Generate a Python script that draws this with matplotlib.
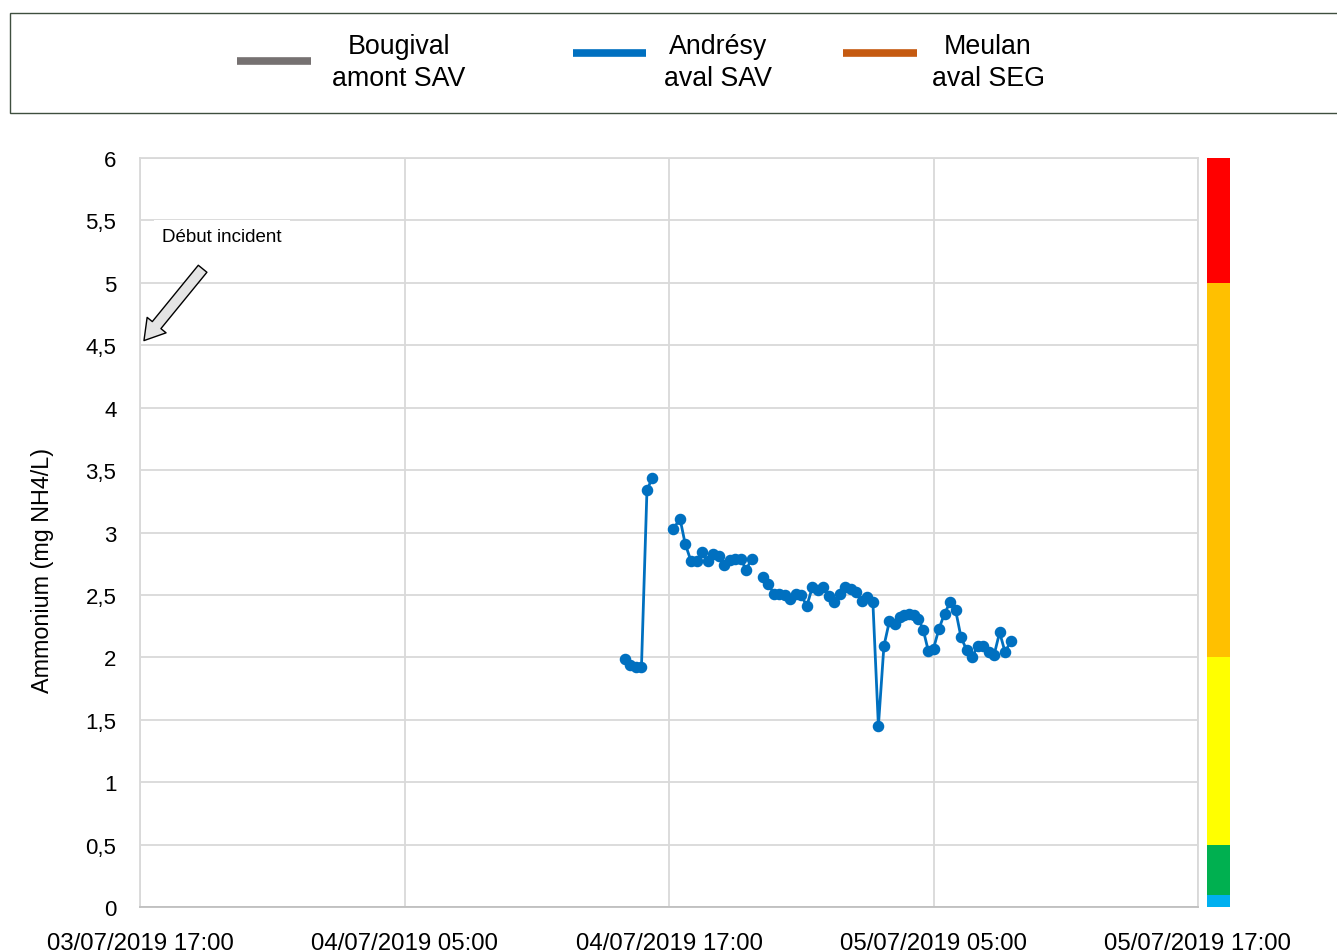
import matplotlib
matplotlib.use("Agg")
import matplotlib.pyplot as plt
import matplotlib.dates as mdates
from matplotlib.patches import Rectangle, FancyArrowPatch
from matplotlib.lines import Line2D
from matplotlib.ticker import FuncFormatter, MultipleLocator
import pandas as pd

# ---------------- data ----------------
andresy_times = [
    "2019-07-04 15:00", "2019-07-04 15:15", "2019-07-04 15:30", "2019-07-04 15:45",
    "2019-07-04 16:00", "2019-07-04 16:15",
    "2019-07-04 17:12", "2019-07-04 17:30", "2019-07-04 17:44", "2019-07-04 18:00",
    "2019-07-04 18:15", "2019-07-04 18:30", "2019-07-04 18:45", "2019-07-04 19:00",
    "2019-07-04 19:15", "2019-07-04 19:30", "2019-07-04 19:45", "2019-07-04 20:00",
    "2019-07-04 20:15", "2019-07-04 20:30", "2019-07-04 20:45",
    "2019-07-04 21:15", "2019-07-04 21:30", "2019-07-04 21:45", "2019-07-04 22:00",
    "2019-07-04 22:15", "2019-07-04 22:30", "2019-07-04 22:45", "2019-07-04 23:00",
    "2019-07-04 23:15", "2019-07-04 23:30", "2019-07-04 23:45", "2019-07-05 00:00",
    "2019-07-05 00:15", "2019-07-05 00:30", "2019-07-05 00:45", "2019-07-05 01:00",
    "2019-07-05 01:15", "2019-07-05 01:30", "2019-07-05 01:45", "2019-07-05 02:00",
    "2019-07-05 02:15", "2019-07-05 02:30", "2019-07-05 02:45", "2019-07-05 03:00",
    "2019-07-05 03:15", "2019-07-05 03:30", "2019-07-05 03:40", "2019-07-05 03:54",
    "2019-07-05 04:08", "2019-07-05 04:19", "2019-07-05 04:32", "2019-07-05 04:46",
    "2019-07-05 05:00", "2019-07-05 05:15", "2019-07-05 05:30", "2019-07-05 05:45",
    "2019-07-05 06:00", "2019-07-05 06:15", "2019-07-05 06:30", "2019-07-05 06:45",
    "2019-07-05 07:00", "2019-07-05 07:15", "2019-07-05 07:30", "2019-07-05 07:45",
    "2019-07-05 08:00", "2019-07-05 08:15", "2019-07-05 08:30",
]
andresy_values = [
    1.99, 1.94, 1.92, 1.92,
    3.34, 3.44,
    3.03, 3.11, 2.91, 2.77,
    2.77, 2.84, 2.77, 2.83,
    2.81, 2.74, 2.78, 2.79,
    2.79, 2.70, 2.79,
    2.64, 2.59, 2.51, 2.51,
    2.50, 2.47, 2.51, 2.50,
    2.41, 2.56, 2.54, 2.56,
    2.49, 2.44, 2.51, 2.56,
    2.55, 2.52, 2.45, 2.48,
    2.44, 1.45, 2.09, 2.29,
    2.27, 2.32, 2.34, 2.35,
    2.34, 2.31, 2.22, 2.05,
    2.07, 2.23, 2.35, 2.44,
    2.38, 2.16, 2.06, 2.00,
    2.09, 2.09, 2.04, 2.02,
    2.20, 2.04, 2.13,
]
# segment gaps (missing data) after these indices
gap_after = [5, 20]

series_labels = ["Bougival\namont SAV", "Andrésy\naval SAV", "Meulan\naval SEG"]
series_colors = ["#767171", "#0070c0", "#c55a11"]

x_start = "2019-07-03 17:00"
x_end = "2019-07-05 17:00"
y_max = 6

# quality classes (colour scale on the right)
class_bounds = [0, 0.1, 0.5, 2, 5, 6]
class_colors = ["#00b0f0", "#00b050", "#ffff00", "#ffc000", "#ff0000"]

annotation_text = "Début incident"
ylabel = "Ammonium (mg NH4/L)"

# ---------------- figure ----------------
W, H = 1337, 953
fig = plt.figure(figsize=(W / 100, H / 100), dpi=100)
plt.rcParams["font.family"] = ["Liberation Sans", "DejaVu Sans"]

def fx(px):
    return px / W

def fy(py):
    return 1 - py / H

ax = fig.add_axes([fx(140), fy(908), fx(1198) - fx(140), fy(159) - fy(908)])

t = pd.to_datetime(andresy_times)
bounds = [0] + [g + 1 for g in gap_after] + [len(t)]
for a, b in zip(bounds[:-1], bounds[1:]):
    ax.plot(t[a:b], andresy_values[a:b], color=series_colors[1], lw=2.0,
            marker="o", ms=7.3, zorder=3)

ax.set_xlim(pd.Timestamp(x_start), pd.Timestamp(x_end))
ax.set_ylim(0, y_max)
ax.xaxis.set_major_locator(mdates.HourLocator(byhour=[5, 17]))
ax.xaxis.set_major_formatter(mdates.DateFormatter("%d/%m/%Y %H:%M"))
ax.yaxis.set_major_locator(MultipleLocator(0.5))
ax.yaxis.set_major_formatter(FuncFormatter(
    lambda val, pos: ("%g" % val).replace(".", ",")))

grid_c = "#d9d9d9"
ax.grid(True, color=grid_c, lw=1.3, zorder=0)
ax.set_axisbelow(True)
for s in ["top", "right"]:
    ax.spines[s].set_visible(False)
ax.spines["left"].set_color(grid_c)
ax.spines["left"].set_linewidth(1.3)
ax.spines["bottom"].set_color("#bfbfbf")
ax.spines["bottom"].set_linewidth(1.3)
ax.tick_params(axis="both", length=0, colors="black")
ax.tick_params(axis="x", pad=18, labelsize=17.3)
ax.tick_params(axis="y", pad=17, labelsize=16)
ax.set_ylabel(ylabel, fontsize=16.8)
ax.yaxis.set_label_coords((54 - 140) / 1058, 0.451)

# right border line (gridline at limit)
ax.axvline(pd.Timestamp(x_end), color=grid_c, lw=1.3, zorder=0, clip_on=False)
ax.axhline(y_max, color=grid_c, lw=1.3, zorder=0, clip_on=False)

# annotation
t0 = pd.Timestamp(x_start)
ax.text(t0 + pd.Timedelta(hours=3.72), 5.37, annotation_text, fontsize=13.5,
        ha="center", va="center", zorder=4,
        bbox=dict(facecolor="white", edgecolor="none", pad=6))
arrow = FancyArrowPatch(
    (mdates.date2num(t0 + pd.Timedelta(hours=2.92)), 5.13),
    (mdates.date2num(t0 + pd.Timedelta(hours=0.1)), 4.52),
    arrowstyle="simple,head_length=0.9,head_width=1.1,tail_width=0.5",
    mutation_scale=16, facecolor="#e4e4e4", edgecolor="black", lw=1.0,
    zorder=5, clip_on=False)
ax.add_patch(arrow)

# colour scale
cax = fig.add_axes([fx(1207), fy(908), fx(23), fy(159) - fy(908)])
for lo, hi, c in zip(class_bounds[:-1], class_bounds[1:], class_colors):
    cax.bar(0.5, hi - lo, bottom=lo, width=1, color=c, edgecolor="none")
cax.set_xlim(0, 1)
cax.set_ylim(0, y_max)
cax.axis("off")

# legend box
fig.add_artist(Rectangle((fx(10), fy(114)), fx(1340) - fx(10), fy(14) - fy(114),
                         transform=fig.transFigure, facecolor="white",
                         edgecolor="#3f4f3f", lw=1.0))
handle_x = [(237, 311), (573, 646), (843, 917)]
handle_y = [62, 54, 54]
text_x = [399, 718, 988]
for (x0, x1), hy, tx, lab, c in zip(handle_x, handle_y, text_x,
                                    series_labels, series_colors):
    fig.add_artist(Line2D([fx(x0), fx(x1)], [fy(hy), fy(hy)],
                          transform=fig.transFigure, color=c, lw=5.5,
                          solid_capstyle="butt"))
    fig.text(fx(tx), fy(63), lab, ha="center", va="center", fontsize=19.3,
             linespacing=1.3)

fig.savefig("out.png", dpi=100)
